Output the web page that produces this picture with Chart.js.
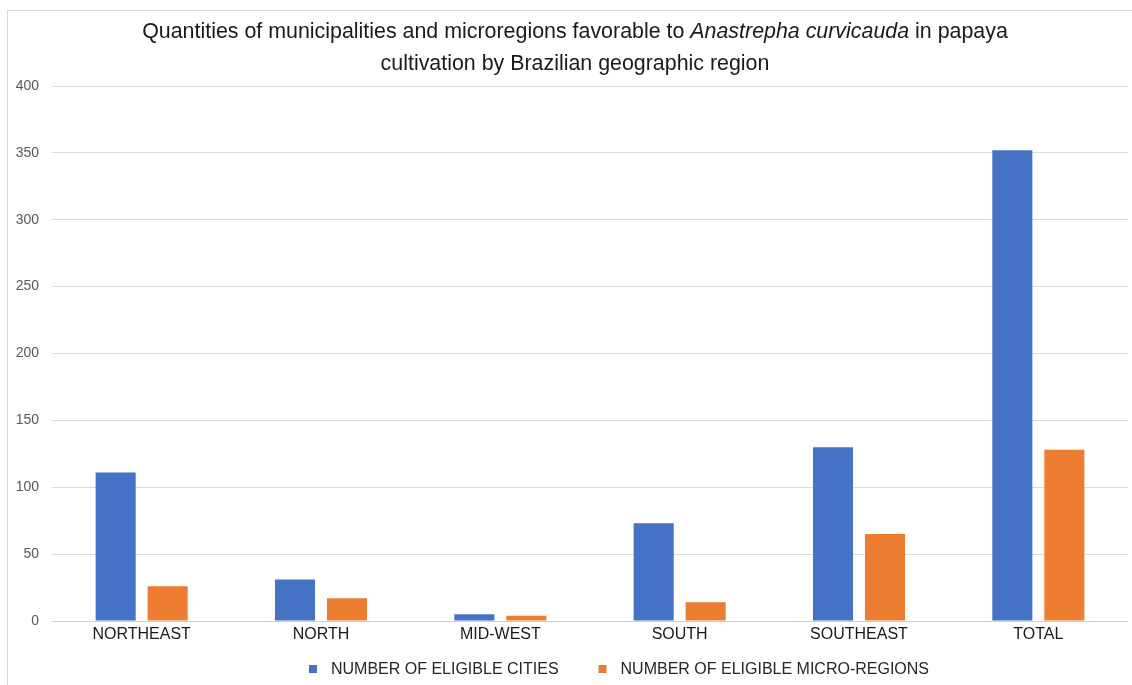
<!DOCTYPE html>
<html>
<head>
<meta charset="utf-8">
<title>Anastrepha curvicauda – papaya</title>
<script src="https://cdn.jsdelivr.net/npm/chart.js@4.4.1/dist/chart.umd.min.js"></script>
<style>
  html, body { margin: 0; padding: 0; background: #ffffff; overflow: hidden; }
  #wrap { position: relative; width: 1132px; height: 685px; }
  #frame {
    position: absolute; left: 7px; top: 10px; width: 1400px; height: 1000px;
    border-left: 1px solid #d9d9d9; border-top: 1px solid #d9d9d9; box-sizing: border-box;
  }
  canvas { position: absolute; left: 0; top: 0; }
</style>
</head>
<body>
<div id="wrap">
  <div id="frame"></div>
  <canvas id="chart" width="1132" height="685"></canvas>
</div>
<script>
// Brazilian geographic regions and the counts per region
const categories = ['NORTHEAST', 'NORTH', 'MID-WEST', 'SOUTH', 'SOUTHEAST', 'TOTAL'];
const eligibleCities = [111, 31, 5, 73, 130, 352];
const eligibleMicroRegions = [26, 17, 4, 14, 65, 128];
const seriesNames = ['NUMBER OF ELIGIBLE CITIES', 'NUMBER OF ELIGIBLE MICRO-REGIONS'];

// Title, with the species name in italics
const titleLines = [
  [
    { text: 'Quantities of municipalities and microregions favorable to ', italic: false },
    { text: 'Anastrepha curvicauda', italic: true },
    { text: ' in papaya', italic: false }
  ],
  [
    { text: 'cultivation by Brazilian geographic region', italic: false }
  ]
];

const FONT = '"Liberation Sans", Arial, Helvetica, sans-serif';

// Draws the mixed-style title and the legend row
const decorations = {
  id: 'decorations',
  afterDraw(chart) {
    const ctx = chart.ctx;
    ctx.save();

    // title
    ctx.fillStyle = '#1a1a1a';
    ctx.textBaseline = 'middle';
    ctx.textAlign = 'left';
    const centerX = 575;
    const lineY = [32, 64];
    const titleSize = '21.4px ';
    titleLines.forEach((segs, li) => {
      let total = 0;
      segs.forEach(s => {
        ctx.font = (s.italic ? 'italic ' : '') + titleSize + FONT;
        s.w = ctx.measureText(s.text).width;
        total += s.w;
      });
      let x = centerX - total / 2;
      segs.forEach(s => {
        ctx.font = (s.italic ? 'italic ' : '') + titleSize + FONT;
        ctx.fillText(s.text, x, lineY[li]);
        x += s.w;
      });
    });

    // legend
    const box = 8, gap = 14, spacing = 40, cy = 669;
    ctx.font = '16px ' + FONT;
    const items = chart.data.datasets.map(ds => ({
      label: ds.label, color: ds.backgroundColor, w: ctx.measureText(ds.label).width
    }));
    let totalW = 0;
    items.forEach((it, i) => { totalW += box + gap + it.w + (i < items.length - 1 ? spacing : 0); });
    let x = 619 - totalW / 2;
    items.forEach(it => {
      ctx.fillStyle = it.color;
      ctx.fillRect(x, cy - box / 2, box, box);
      ctx.fillStyle = '#262626';
      ctx.fillText(it.label, x + box + gap, cy + 1);
      x += box + gap + it.w + spacing;
    });

    ctx.restore();
  }
};

new Chart(document.getElementById('chart'), {
  type: 'bar',
  data: {
    labels: categories,
    datasets: [
      {
        label: seriesNames[0],
        data: eligibleCities,
        backgroundColor: '#4472C4',
        categoryPercentage: 0.58,
        barPercentage: 0.77
      },
      {
        label: seriesNames[1],
        data: eligibleMicroRegions,
        backgroundColor: '#ED7D31',
        categoryPercentage: 0.58,
        barPercentage: 0.77
      }
    ]
  },
  options: {
    responsive: false,
    animation: false,
    devicePixelRatio: 1,
    layout: { padding: { top: 86, right: 4, bottom: 40, left: 0 } },
    plugins: {
      legend: { display: false },
      title: { display: false },
      tooltip: { enabled: false }
    },
    scales: {
      x: {
        grid: { display: false, drawTicks: false },
        border: { display: false },
        ticks: {
          color: '#1a1a1a',
          font: { family: FONT, size: 16 },
          padding: 4,
          maxRotation: 0,
          autoSkip: false
        },
        afterFit(scale) { scale.height = 24; }
      },
      y: {
        min: 0,
        max: 400,
        grid: {
          drawTicks: false,
          color: ctx => (ctx.tick && ctx.tick.value === 0 ? '#cfcfcf' : '#dcdcdc'),
          lineWidth: 1
        },
        border: { display: false },
        ticks: {
          stepSize: 50,
          color: '#595959',
          font: { family: FONT, size: 14 },
          padding: 13
        },
        afterFit(scale) { scale.width = 52; }
      }
    }
  },
  plugins: [decorations]
});
</script>
</body>
</html>
